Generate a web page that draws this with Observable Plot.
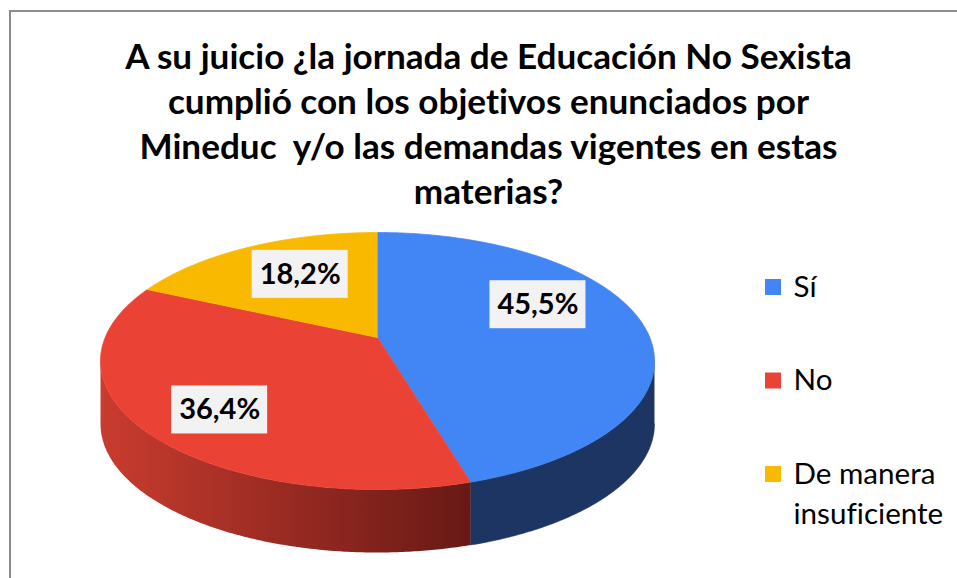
<!DOCTYPE html>
<html>
<head>
<meta charset="utf-8">
<script src="https://cdn.jsdelivr.net/npm/d3@7"></script>
<script src="https://cdn.jsdelivr.net/npm/@observablehq/plot@0.6"></script>
<style>
  html, body { margin: 0; padding: 0; background: #fff; }
  #wrap { position: relative; width: 957px; height: 578px; overflow: hidden; background: #fff;
          font-variant-ligatures: none; font-feature-settings: "liga" 0, "clig" 0; }
  #frame { position: absolute; left: 9px; top: 10px; width: 1000px; height: 700px;
           border-left: 2px solid #8c8c8c; border-top: 2px solid #8c8c8c; box-sizing: border-box; }
  #title { position: relative; height: 215px; font-family: Lato, sans-serif; font-weight: 700; color: #000; }
  #title div { position: absolute; left: 20px; width: 937px; text-align: center; white-space: pre; line-height: 45px; }
  #chart { position: relative; }
  #chart svg { display: block; overflow: visible; }
  #chart svg text { font-variant-ligatures: none; font-feature-settings: "liga" 0, "clig" 0; }
</style>
</head>
<body>
<div id="wrap">
  <div id="frame"></div>
  <div id="title"></div>
  <div id="chart"></div>
</div>
<script>
// ---- data ----
const categories = ["Sí", "No", "De manera insuficiente"];
const values = [45.5, 36.4, 18.2];
const valueLabels = ["45,5%", "36,4%", "18,2%"];
const legendLabels = [["Sí"], ["No"], ["De manera", "insuficiente"]];
const titleLines = [
  "A su juicio ¿la jornada de Educación No Sexista",
  "cumplió con los objetivos enunciados por",
  "Mineduc  y/o las demandas vigentes en estas",
  "materias?"
];

// ---- styles / layout ----
const topColors = ["#4285f4", "#ea4335", "#f9b900"];
const sideColors = ["#1c3563", "url(#sideNo)", "#8a6400"];
const P = {cx: 377, cy: 337, a: 272.3, b: 124.2, p: 0.183, depth: 63};
const labelR = 0.62;
const labelNudge = [[-4, -22], [-20, 18], [6, -4]];
const boxW = 96, boxH = 48;
const legend = {x: 765, size: 16, y0: 287, step: 93.5, textX: 793, lineGap: 40};

// ---- font fitting ----
const ctx = document.createElement("canvas").getContext("2d");
function fitSize(text, weight, family, target) {
  ctx.font = `${weight} 100px ${family}`;
  return 100 * target / ctx.measureText(text).width;
}
const titleFs = fitSize(titleLines[0], 700, "Lato", 728);
const labelFs = fitSize("45,5%", 700, "Lato", 81);
const legendFs = fitSize("De manera", 400, "Lato", 142);

// ---- title ----
const tEl = document.getElementById("title");
titleLines.forEach((t, i) => {
  const d = document.createElement("div");
  d.textContent = t;
  d.style.fontSize = titleFs + "px";
  d.style.top = (55 + i * 45 - 22.5) + "px";
  tEl.appendChild(d);
});

// ---- geometry ----
function proj(theta, r = 1, dz = 0) {
  const u = r * Math.sin(theta), w = -r * Math.cos(theta);
  const den = 1 - P.p * w;
  return {x: P.cx + P.a * u / den, y: P.cy + P.b * w / den + dz};
}
const arcs = d3.pie().sort(null)(values);
const step = Math.PI / 360;
function arcPts(a0, a1, dz) {
  const n = Math.max(2, Math.ceil(Math.abs(a1 - a0) / step));
  return d3.range(n + 1).map(k => proj(a0 + (a1 - a0) * k / n, 1, dz));
}
const thR = Math.acos(-P.p), thL = 2 * Math.PI - thR;

const tops = [], sides = [];
arcs.forEach((a, i) => {
  const pts = [proj(0, 0), ...arcPts(a.startAngle, a.endAngle, 0)];
  pts.forEach(p => tops.push({...p, key: categories[i], fill: topColors[i]}));
  const s0 = Math.max(a.startAngle, thR), s1 = Math.min(a.endAngle, thL);
  if (s0 < s1) {
    const sp = [...arcPts(s0, s1, 0), ...arcPts(s1, s0, P.depth)];
    sides.push({key: categories[i], fill: sideColors[i], pts: sp});
  }
});

const labels = arcs.map((a, i) => {
  const m = (a.startAngle + a.endAngle) / 2;
  const c = proj(m, labelR);
  return {x: c.x + labelNudge[i][0], y: c.y + labelNudge[i][1], text: valueLabels[i]};
});

const legendItems = categories.map((c, i) => ({
  y: legend.y0 + i * legend.step, fill: topColors[i]
}));
const legendText = [];
legendLabels.forEach((lines, i) => lines.forEach((t, j) =>
  legendText.push({y: legend.y0 + i * legend.step + j * legend.lineGap, text: t})));

const sideMarks = sides.map(s => Plot.line(s.pts, {
  x: "x", y: "y", fill: s.fill, stroke: s.fill.startsWith("url") ? "none" : s.fill, strokeWidth: 0.6, curve: "linear"
}));

const chart = Plot.plot({
  width: 957,
  height: 363,
  margin: 0,
  x: {domain: [0, 957], range: [0, 957], axis: null},
  y: {domain: [215, 578], range: [0, 363], axis: null},
  style: {background: "transparent", overflow: "visible"},
  marks: [
    ...sideMarks,
    ...arcs.map((a, i) => Plot.line(tops.filter(d => d.key === categories[i]), {
      x: "x", y: "y", fill: topColors[i], stroke: topColors[i], strokeWidth: 0.8, curve: "linear"
    })),
    Plot.rect(labels, {
      x1: d => d.x - boxW / 2, x2: d => d.x + boxW / 2,
      y1: d => d.y - boxH / 2, y2: d => d.y + boxH / 2, fill: "#f2f2f2"
    }),
    Plot.text(labels, {
      x: "x", y: "y", text: "text", fontSize: labelFs, fontWeight: 700,
      fontFamily: "Lato", fill: "#000", textAnchor: "middle", lineAnchor: "middle"
    }),
    Plot.rect(legendItems, {
      x1: legend.x, x2: legend.x + legend.size,
      y1: d => d.y - legend.size / 2, y2: d => d.y + legend.size / 2, fill: "fill"
    }),
    Plot.text(legendText, {
      x: legend.textX, y: "y", text: "text", fontSize: legendFs, fontFamily: "Lato",
      fill: "#000", textAnchor: "start", lineAnchor: "middle"
    })
  ]
});

// gradient for the lit side of the "No" slice
const svg = d3.select(chart);
const defs = svg.insert("defs", ":first-child");
const g = defs.append("linearGradient").attr("id", "sideNo")
  .attr("gradientUnits", "userSpaceOnUse")
  .attr("x1", 100).attr("x2", 470).attr("y1", 0).attr("y2", 0);
g.append("stop").attr("offset", "0").attr("stop-color", "#c93c2f");
g.append("stop").attr("offset", "1").attr("stop-color", "#681915");

document.getElementById("chart").appendChild(chart);
</script>
</body>
</html>
